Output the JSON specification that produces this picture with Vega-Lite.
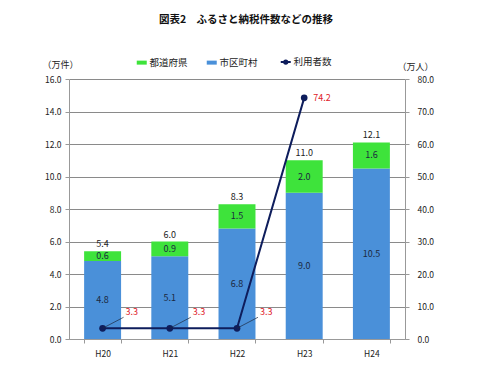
{
  "$schema": "https://vega.github.io/schema/vega-lite/v6.json",
  "width": 336,
  "height": 260,
  "autosize": {"type": "none"},
  "padding": {"left": 69, "top": 79, "right": 95, "bottom": 51},
  "background": "white",
  "title": {
    "text": "図表2　ふるさと納税件数などの推移",
    "font": "Noto Sans CJK JP",
    "fontSize": 10.5,
    "fontWeight": "bold",
    "color": "#111",
    "anchor": "middle",
    "frame": "group",
    "dx": 9,
    "offset": 32
  },
  "datasets": {
    "bars": [
      {"年度": "H20", "区分": "市区町村", "件数": 4.8},
      {"年度": "H20", "区分": "都道府県", "件数": 0.6},
      {"年度": "H21", "区分": "市区町村", "件数": 5.1},
      {"年度": "H21", "区分": "都道府県", "件数": 0.9},
      {"年度": "H22", "区分": "市区町村", "件数": 6.8},
      {"年度": "H22", "区分": "都道府県", "件数": 1.5},
      {"年度": "H23", "区分": "市区町村", "件数": 9.0},
      {"年度": "H23", "区分": "都道府県", "件数": 2.0},
      {"年度": "H24", "区分": "市区町村", "件数": 10.5},
      {"年度": "H24", "区分": "都道府県", "件数": 1.6}
    ],
    "users": [
      {"年度": "H20", "利用者数": 3.3},
      {"年度": "H21", "利用者数": 3.3},
      {"年度": "H22", "利用者数": 3.3},
      {"年度": "H23", "利用者数": 74.2}
    ]
  },
  "config": {
    "font": "Noto Sans CJK JP",
    "view": {"stroke": null},
    "axis": {
      "labelFont": "Noto Sans CJK JP",
      "labelFontSize": 8.5,
      "labelColor": "#222",
      "labelOverlap": false,
      "domainColor": "#999",
      "tickColor": "#999",
      "gridColor": "#8a8a8a",
      "titleFont": "Noto Sans CJK JP",
      "titleFontSize": 9,
      "titleFontWeight": "normal",
      "titleColor": "#222"
    }
  },
  "resolve": {"scale": {"y": "independent"}},
  "layer": [
    {
      "data": {"name": "bars"},
      "layer": [
        {
          "mark": {"type": "bar"},
          "encoding": {
            "x": {
              "field": "年度", "type": "nominal",
              "scale": {"paddingInner": 0.45, "paddingOuter": 0.225},
              "axis": {"title": null, "labelAngle": 0, "tickBand": "extent", "labelPadding": 6, "tickSize": 4}
            },
            "y": {
              "field": "件数", "type": "quantitative", "stack": "zero",
              "scale": {"domain": [0, 16], "nice": false},
              "axis": {
                "values": [0, 2, 4, 6, 8, 10, 12, 14, 16],
                "tickCount": 9,
                "format": ".1f",
                "title": "（万件）",
                "titleAngle": 0,
                "titleX": -9,
                "titleY": -10,
                "titleAlign": "center",
                "grid": true,
                "tickSize": 4,
                "labelPadding": 4
              }
            },
            "color": {
              "field": "区分", "type": "nominal",
              "scale": {"domain": ["都道府県", "市区町村", "利用者数"], "range": ["#3ee33b", "#4a90d9", "#0e1d5c"]},
              "legend": {
                "title": null,
                "orient": "none",
                "legendX": 68,
                "legendY": -22,
                "direction": "horizontal",
                "labelFont": "Noto Sans CJK JP",
                "labelFontSize": 9.5,
                "labelColor": "#222",
                "symbolSize": 100,
                "columnPadding": 18,
                "labelOffset": 3,
                "encode": {
                  "symbols": {
                    "update": {
                      "shape": {"signal": "datum.value === '利用者数' ? 'M-1,0H1M-0.32,0A0.32,0.32 0 1,0 0.32,0A0.32,0.32 0 1,0 -0.32,0Z' : 'M-1,-0.4H1V0.4H-1Z'"},
                      "fill": {"signal": "scale('color', datum.value)"},
                      "stroke": {"signal": "scale('color', datum.value)"},
                      "strokeWidth": {"signal": "datum.value === '利用者数' ? 2 : 0"},
                      "opacity": {"value": 1},
                      "fillOpacity": {"value": 1}
                    }
                  }
                }
              }
            },
            "order": {"field": "区分", "sort": "ascending"}
          }
        },
        {
          "mark": {"type": "text", "fontSize": 9, "color": "#1c2940", "baseline": "middle"},
          "encoding": {
            "x": {"field": "年度", "type": "nominal"},
            "y": {"field": "件数", "type": "quantitative", "stack": "zero", "bandPosition": 0.5},
            "text": {"field": "件数", "type": "quantitative", "format": ".1f"},
            "order": {"field": "区分", "sort": "ascending"}
          }
        },
        {
          "mark": {"type": "text", "fontSize": 9, "color": "#222", "baseline": "bottom", "dy": -2},
          "encoding": {
            "x": {"field": "年度", "type": "nominal"},
            "y": {"aggregate": "sum", "field": "件数", "type": "quantitative"},
            "text": {"aggregate": "sum", "field": "件数", "type": "quantitative", "format": ".1f"}
          }
        }
      ]
    },
    {
      "data": {"name": "users"},
      "layer": [
        {
          "mark": {"type": "line", "strokeWidth": 2, "color": "#0e1d5c"},
          "encoding": {
            "x": {"field": "年度", "type": "nominal"},
            "y": {
              "field": "利用者数", "type": "quantitative",
              "scale": {"domain": [0, 80], "nice": false},
              "axis": {
                "orient": "right",
                "values": [0, 10, 20, 30, 40, 50, 60, 70, 80],
                "tickCount": 9,
                "format": ".1f",
                "grid": false,
                "title": "（万人）",
                "titleAngle": 0,
                "titleX": 10,
                "titleY": -8,
                "titleAlign": "center",
                "tickSize": 4,
                "labelPadding": 8
              }
            },
            "color": {"datum": "利用者数", "type": "nominal"}
          }
        },
        {
          "mark": {"type": "point", "filled": true, "size": 45, "opacity": 1, "color": "#0e1d5c"},
          "encoding": {
            "x": {"field": "年度", "type": "nominal"},
            "y": {"field": "利用者数", "type": "quantitative"}
          }
        },
        {
          "transform": [{"filter": "datum['年度'] !== 'H23'"}],
          "mark": {"type": "rule", "color": "#1c2940", "strokeWidth": 0.7, "x2Offset": 21, "y2Offset": -11},
          "encoding": {
            "x": {"field": "年度", "type": "nominal", "bandPosition": 0.5},
            "x2": {"field": "年度"},
            "y": {"field": "利用者数", "type": "quantitative"},
            "y2": {"field": "利用者数"}
          }
        },
        {
          "transform": [{"filter": "datum['年度'] !== 'H23'"}],
          "mark": {"type": "text", "fontSize": 9, "color": "#e0202a", "align": "left", "baseline": "middle", "dx": 23, "dy": -16},
          "encoding": {
            "x": {"field": "年度", "type": "nominal"},
            "y": {"field": "利用者数", "type": "quantitative"},
            "text": {"field": "利用者数", "type": "quantitative", "format": ".1f"}
          }
        },
        {
          "transform": [{"filter": "datum['年度'] === 'H23'"}],
          "mark": {"type": "text", "fontSize": 9, "color": "#e0202a", "align": "left", "baseline": "middle", "dx": 9, "dy": 0},
          "encoding": {
            "x": {"field": "年度", "type": "nominal"},
            "y": {"field": "利用者数", "type": "quantitative"},
            "text": {"field": "利用者数", "type": "quantitative", "format": ".1f"}
          }
        }
      ]
    }
  ]
}
